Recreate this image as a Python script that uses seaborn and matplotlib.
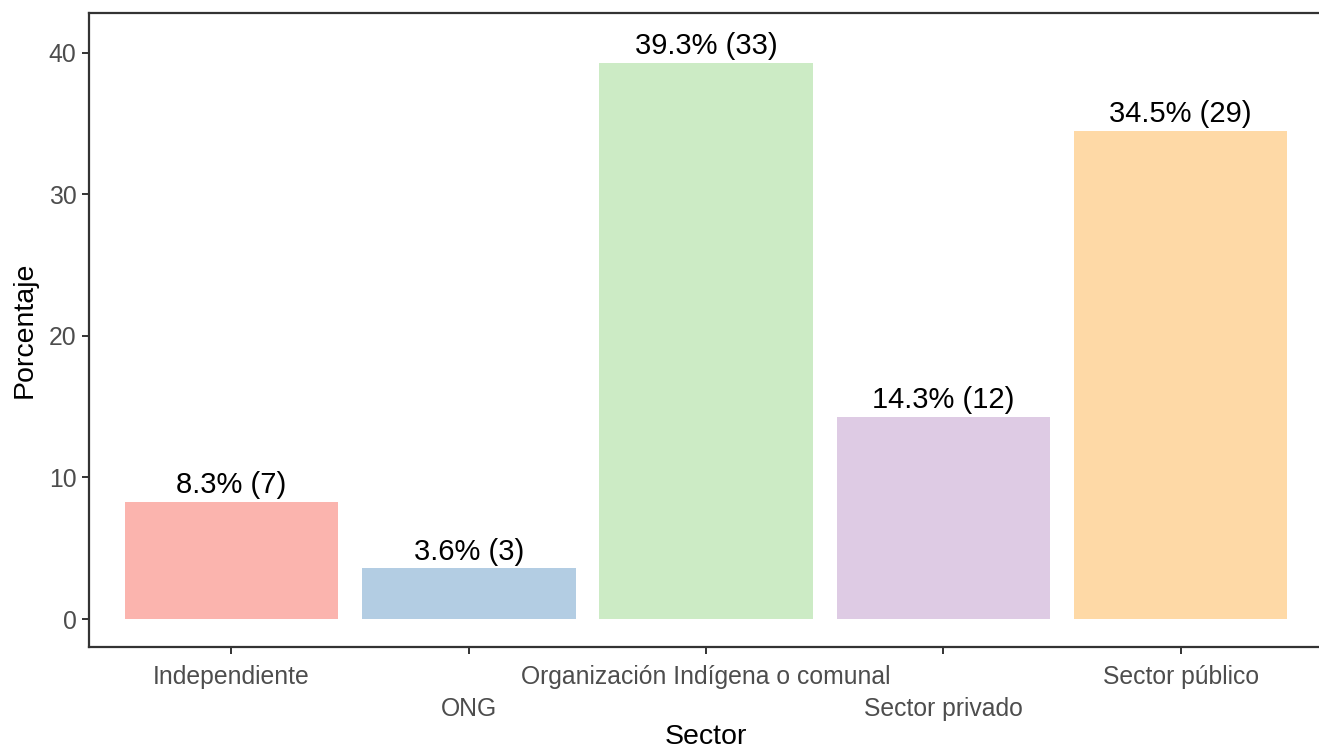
import matplotlib
matplotlib.use("Agg")
import matplotlib.pyplot as plt
import seaborn as sns
import pandas as pd

sectores = ["Independiente", "ONG", "Organización Indígena o comunal", "Sector privado", "Sector público"]
porcentajes = [8.3, 3.6, 39.3, 14.3, 34.5]
conteos = [7, 3, 33, 12, 29]
colores = ["#FBB4AE", "#B3CDE3", "#CCEBC5", "#DECBE4", "#FED9A6"]
yticks = [0, 10, 20, 30, 40]

df = pd.DataFrame({"Sector": sectores, "Porcentaje": porcentajes, "n": conteos})

sns.set_theme(style="white")
plt.rcParams["font.family"] = ["Liberation Sans", "DejaVu Sans"]

fig = plt.figure(figsize=(13.19, 7.49), dpi=100)
ax = fig.add_axes([0.0675, 0.1362, 0.9356, 0.8465])

sns.barplot(data=df, x="Sector", y="Porcentaje", hue="Sector", palette=colores,
            width=0.9, legend=False, ax=ax, saturation=1, edgecolor="none")

for i, (p, n) in enumerate(zip(porcentajes, conteos)):
    ax.annotate(f"{p}% ({n})", xy=(i, p), xytext=(0, 1.5), textcoords="offset points",
                ha="center", va="bottom", fontsize=21, color="black")

ax.set_xlim(-0.6, 4.6)
ax.set_ylim(-1.97, 42.8)
ax.set_yticks(yticks)
ax.set_yticklabels([str(t) for t in yticks])
ax.set_xticks(range(len(sectores)))
ax.set_xticklabels([s if i % 2 == 0 else "\n" + s for i, s in enumerate(sectores)], linespacing=1.4)

for sp in ax.spines.values():
    sp.set_color("#333333")
    sp.set_linewidth(1.6)
ax.spines["right"].set_visible(False)
ax.tick_params(axis="both", length=5, width=1.4, color="#333333", labelcolor="#4D4D4D",
               labelsize=17.8, bottom=True, left=True)
ax.tick_params(axis="x", pad=8)
ax.tick_params(axis="y", pad=4)

ax.set_xlabel("Sector", fontsize=20.5, color="black", labelpad=2.5)
ax.set_ylabel("Porcentaje", fontsize=20.5, color="black", labelpad=8)

fig.savefig("out.png", dpi=100)
